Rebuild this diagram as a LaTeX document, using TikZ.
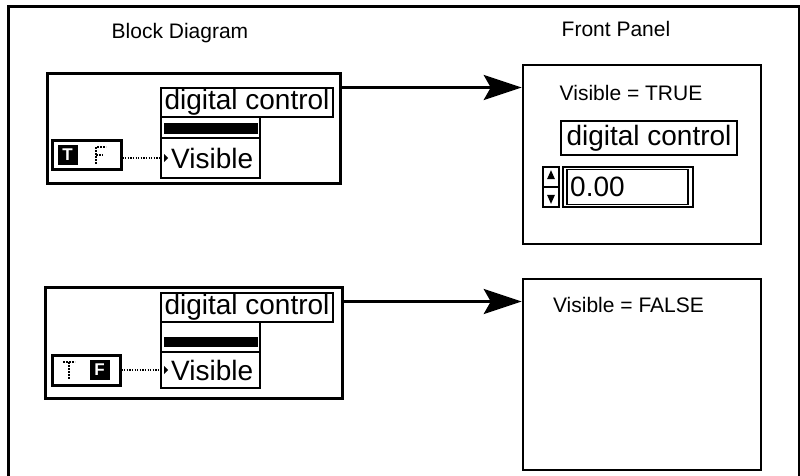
\documentclass[tikz,border=0pt]{standalone}
\usepackage{fontspec}
\setmainfont{Liberation Sans}
\usetikzlibrary{arrows.meta,positioning,calc}
\tikzset{
  frame/.style={draw=black, line width=3pt},
  title/.style={font=\fontsize{21}{24}\selectfont, inner sep=0pt},
  bdbox/.style={draw=black, line width=3pt},
  panelbox/.style={draw=black, line width=2.5pt},
  lblbox/.style={draw=black, line width=1.6pt, inner sep=0pt,
    font=\fontsize{28}{28}\selectfont},
  propbox/.style={draw=black, line width=1.6pt},
  blackbar/.style={fill=black, inner sep=0pt},
  rowbox/.style={draw=black, line width=1.6pt},
  lvtext/.style={font=\fontsize{28}{28}\selectfont, inner sep=0pt},
  boolbox/.style={draw=black, line width=3pt},
  boolsq/.style={fill=black, text=white, inner sep=0pt, minimum size=20pt,
    font=\fontsize{17}{17}\selectfont\bfseries},
  dotglyph/.style={line width=1.6pt, dash pattern=on 1.6pt off 1.4pt},
  wire/.style={line width=1.3pt, dash pattern=on 1.3pt off 1.3pt},
  arrow/.style={line width=3pt, -{Stealth[length=38pt,width=25pt,inset=7pt]}},
  numbox/.style={draw=black, line width=1.6pt},
  spinbox/.style={draw=black, line width=1.6pt}
}
\begin{document}
\begin{tikzpicture}[x=1pt,y=-1pt]
  \useasboundingbox (0,0) rectangle (800,475);
  \draw[frame] (8,480) -- (8,6) -- (799,6) -- (799,480);

  \node[title] (bdtitle) at (180,33) {Block Diagram};
  \node[title] (fptitle) at (616,29) {Front Panel};

  % block diagram, visible = true
  \node[bdbox, minimum width=293pt, minimum height=110pt] (bd1) at (193.5,128) {};
  \node[lblbox, minimum width=172pt, minimum height=29pt] (lbl1) at (247,102.5) {digital control};
  \node[propbox, minimum width=99pt, minimum height=61pt] (prop1) at (210.5,147.5) {};
  \node[blackbar, minimum width=94pt, minimum height=11pt] (bar1) at (210.5,128.5) {};
  \node[rowbox, minimum width=99pt, minimum height=40pt] (vis1) at (210.5,158) {};
  \node[lvtext, anchor=west] (vistxt1) at (171,158) {Visible};
  \fill ([xshift=4pt,yshift=4pt]vis1.west) -- ++(4pt,-4pt) -- ++(-4pt,-4pt) -- cycle;
  \node[boolbox, minimum width=69pt, minimum height=29pt] (bool1) at (86.5,154.5) {};
  \node[boolsq] (tsq1) at (67.5,154.5) {T};
  \draw[dotglyph] (96,164) -- (96,147) -- (106,147);
  \draw[dotglyph] (96,155) -- (103,155);
  \draw[wire] (bool1.east |- vis1) -- (vis1.west);

  % block diagram, visible = false
  \node[bdbox, minimum width=297pt, minimum height=111pt] (bd2) at (193.5,342.5) {};
  \node[lblbox, minimum width=172pt, minimum height=29pt] (lbl2) at (247,307.5) {digital control};
  \node[propbox, minimum width=99pt, minimum height=66pt] (prop2) at (210.5,355) {};
  \node[blackbar, minimum width=94pt, minimum height=10pt] (bar2) at (210.5,342) {};
  \node[rowbox, minimum width=99pt, minimum height=36pt] (vis2) at (210.5,370) {};
  \node[lvtext, anchor=west] (vistxt2) at (171,370) {Visible};
  \fill ([xshift=4pt,yshift=4pt]vis2.west) -- ++(4pt,-4pt) -- ++(-4pt,-4pt) -- cycle;
  \node[boolbox, minimum width=68pt, minimum height=30pt] (bool2) at (86,370) {};
  \node[boolsq] (fsq2) at (99.5,370) {F};
  \draw[dotglyph] (63,362) -- (75,362);
  \draw[dotglyph] (69,362) -- (69,379);
  \draw[wire] (bool2.east |- vis2) -- (vis2.west);

  % front panel, visible = true
  \node[panelbox, minimum width=238pt, minimum height=179pt] (fp1) at (642,154.5) {};
  \node[title] (state1) at (631,93) {Visible = TRUE};
  \node[lblbox, minimum width=176pt, minimum height=34pt] (fplbl1) at (649,138) {digital control};
  \node[numbox, minimum width=130pt, minimum height=40pt] (num1) at (628,187) {};
  \node[numbox, minimum width=121pt, minimum height=35pt] (numin1) at (627.5,187) {};
  \node[lvtext, anchor=west] (val1) at (570,187) {0.00};
  \node[spinbox, minimum width=16pt, minimum height=40pt] (spin1) at (551,187) {};
  \draw[line width=1.2pt] (spin1.west) -- (spin1.east);
  \fill ([yshift=-4pt]spin1.north) -- ++(4pt,-9pt) -- ++(-8pt,0pt) -- cycle;
  \fill ([yshift=4pt]spin1.south) -- ++(4pt,9pt) -- ++(-8pt,0pt) -- cycle;

  % front panel, visible = false
  \node[panelbox, minimum width=238pt, minimum height=191pt] (fp2) at (642,374.5) {};
  \node[title] (state2) at (628.5,305) {Visible = FALSE};

  \draw[arrow] ([yshift=-16pt]bd1.north east) -- ([yshift=-16pt]bd1.north east -| fp1.west);
  \draw[arrow] ([yshift=-16pt]bd2.north east) -- ([yshift=-16pt]bd2.north east -| fp2.west);
\end{tikzpicture}
\end{document}
